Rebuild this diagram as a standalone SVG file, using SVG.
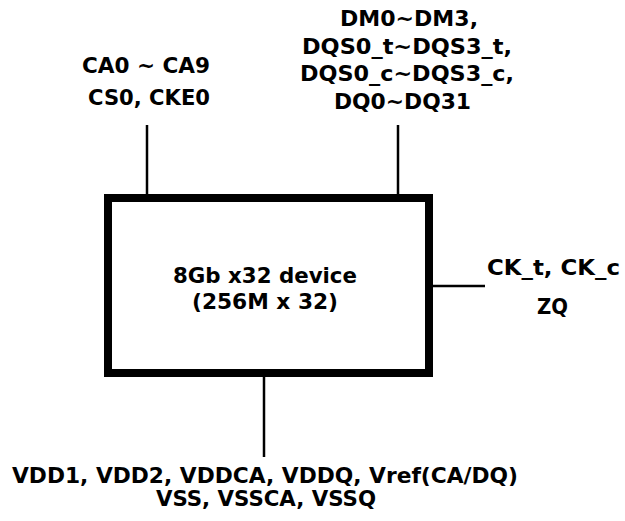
<svg xmlns="http://www.w3.org/2000/svg" width="625" height="521" viewBox="0 0 625 521">
<style>
text{font-family:"DejaVu Sans Condensed","DejaVu Sans",Verdana,sans-serif;font-weight:bold;font-size:22px;fill:#000;}
.w{stroke:#000;stroke-width:2.5;fill:none;}
</style>
<rect width="625" height="521" fill="#fff"/>
<g id="connectors">
<line class="w" x1="147" y1="125" x2="147" y2="194"/>
<line class="w" x1="398" y1="125" x2="398" y2="194"/>
<line class="w" x1="433" y1="286" x2="485" y2="286"/>
<line class="w" x1="264" y1="377" x2="264" y2="457"/>
</g>
<g id="device">
<rect x="108" y="198" width="321" height="175" fill="#fff" stroke="#000" stroke-width="8"/>
<text x="173" y="283" textLength="184" lengthAdjust="spacingAndGlyphs">8Gb x32 device</text>
<text x="192" y="309" textLength="146" lengthAdjust="spacingAndGlyphs">(256M x 32)</text>
</g>
<g id="ca-label">
<text x="82" y="73" textLength="128" lengthAdjust="spacingAndGlyphs">CA0 ~ CA9</text>
<text x="88" y="105" textLength="122" lengthAdjust="spacingAndGlyphs">CS0, CKE0</text>
</g>
<g id="dq-label">
<text x="340" y="26" textLength="138" lengthAdjust="spacingAndGlyphs">DM0~DM3,</text>
<text x="302" y="54" textLength="210" lengthAdjust="spacingAndGlyphs">DQS0_t~DQS3_t,</text>
<text x="300" y="81" textLength="214" lengthAdjust="spacingAndGlyphs">DQS0_c~DQS3_c,</text>
<text x="334" y="109" textLength="137" lengthAdjust="spacingAndGlyphs">DQ0~DQ31</text>
</g>
<g id="ck-label">
<text x="487" y="275" textLength="133" lengthAdjust="spacingAndGlyphs">CK_t, CK_c</text>
<text x="537" y="314" textLength="31" lengthAdjust="spacingAndGlyphs">ZQ</text>
</g>
<g id="power-label">
<text x="12" y="483" textLength="506" lengthAdjust="spacingAndGlyphs">VDD1, VDD2, VDDCA, VDDQ, Vref(CA/DQ)</text>
<text x="156" y="506" textLength="220" lengthAdjust="spacingAndGlyphs">VSS, VSSCA, VSSQ</text>
</g>
</svg>
